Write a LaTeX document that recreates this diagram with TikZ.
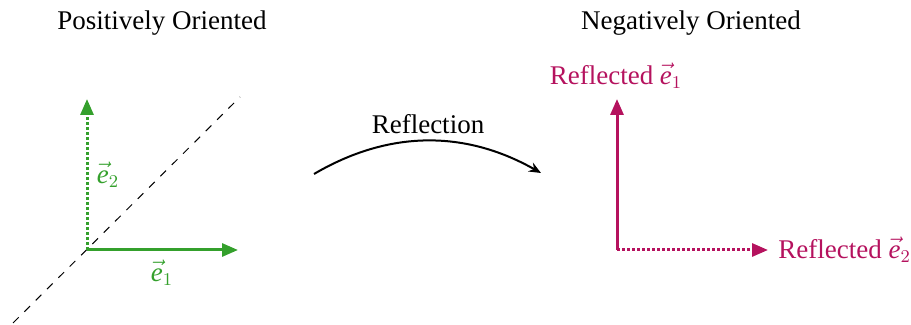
\documentclass[tikz,border=0pt]{standalone}
\usepackage{fontspec}
\setmainfont{Liberation Serif}
\usetikzlibrary{arrows.meta}
\definecolor{vgreen}{RGB}{52,160,44}
\definecolor{vmag}{RGB}{181,18,94}
\tikzset{
  lbl/.style={inner sep=0pt, font=\fontsize{13.5}{16}\selectfont},
  vecgreen/.style={draw=vgreen, line width=1.5pt, -{Triangle[length=8pt,width=6.5pt]}},
  vecmag/.style={draw=vmag, line width=1.5pt, -{Triangle[length=8pt,width=6.5pt]}},
  dotline/.style={dash pattern=on 1.5pt off 1pt},
}
\newcommand{\ve}[1]{$\vec{\textit{e}}_{#1}$}
\begin{document}
\begin{tikzpicture}[x=0.5pt,y=-0.5pt]
\useasboundingbox (0,0) rectangle (911,325);
% titles
\node[lbl] (tpos) at (162,23) {Positively Oriented};
\node[lbl] (tneg) at (691,23) {Negatively Oriented};
% left frame
\coordinate (O1) at (87,250);
\coordinate (E1) at (238,250);
\coordinate (E2) at (87,99);
\coordinate (D1) at (13,323);
\coordinate (D2) at (240,97);
\draw[line width=0.5pt, dash pattern=on 4pt off 4pt] (D1) -- (D2);
\draw[vecgreen] (O1) -- (E1);
\draw[vecgreen, dotline] (O1) -- (E2);
\node[lbl, text=vgreen] (le1) at (162,273) {\ve{1}};
\node[lbl, text=vgreen] (le2) at (108,175) {\ve{2}};
% reflection arrow
\coordinate (RA) at (314,174);
\coordinate (RB) at (541,173);
\draw[line width=1pt, -{Stealth[length=6pt,width=5pt]}] (RA) .. controls (389,130) and (465,130) .. (RB);
\node[lbl] (rl) at (428,124) {Reflection};
% right frame
\coordinate (O2) at (617,250);
\coordinate (F1) at (617,99);
\coordinate (F2) at (768,250);
\draw[vecmag] (O2) -- (F1);
\draw[vecmag, dotline] (O2) -- (F2);
\node[lbl, text=vmag] (lf1) at (616,76) {Reflected \ve{1}};
\node[lbl, text=vmag, anchor=west] (lf2) at (778,250) {Reflected \ve{2}};
\end{tikzpicture}
\end{document}
